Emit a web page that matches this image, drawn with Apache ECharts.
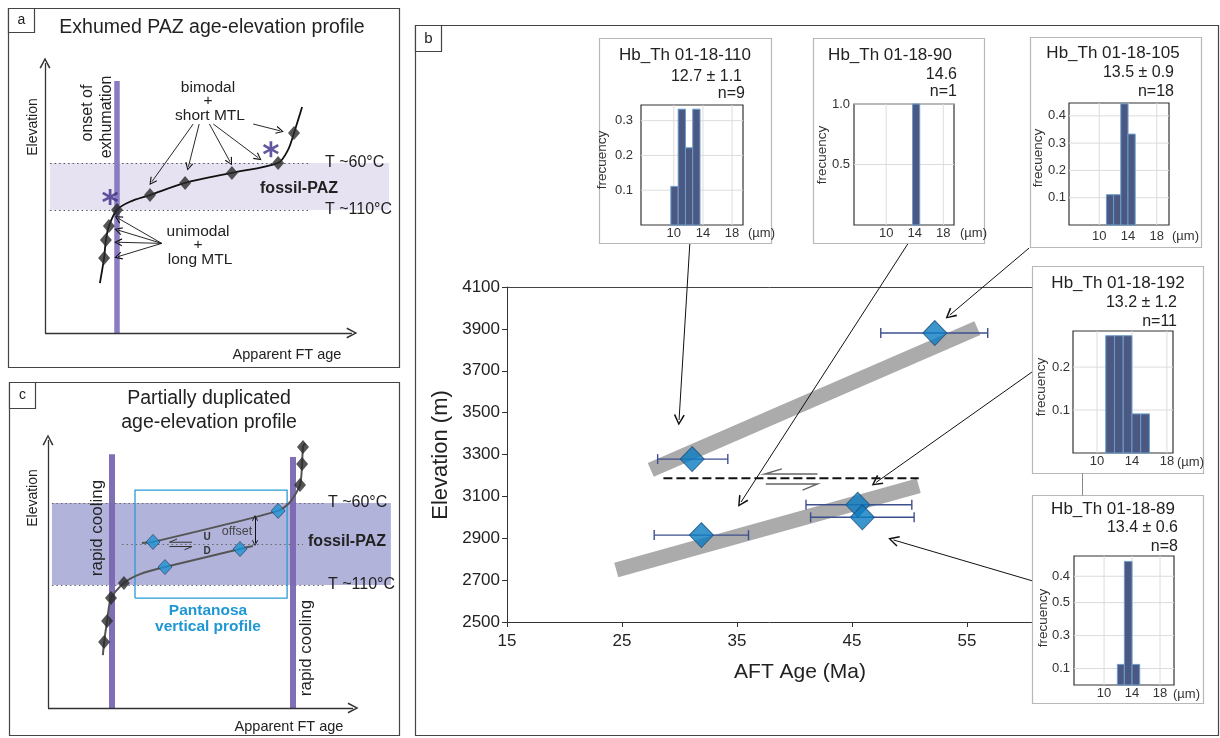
<!DOCTYPE html>
<html><head><meta charset="utf-8">
<script src="https://cdn.jsdelivr.net/npm/echarts@6/dist/echarts.min.js"></script>
<style>html,body{margin:0;padding:0;background:#fff}#c{width:1220px;height:738px}</style>
</head><body><div id="c"></div>
<script>
// ================= DATA =================
// ---- Panel b: AFT age vs elevation ----
const ageTicks = [15, 25, 35, 45, 55];
const elevTicks = [2500, 2700, 2900, 3100, 3300, 3500, 3700, 3900, 4100];
const ageMa   = [52.2, 31.1, 31.9, 45.5, 45.9];
const elevM   = [3880, 3278, 2915, 3060, 3000];
const ageErrLo = [47.5, 28.1, 27.8, 41.0, 41.4];
const ageErrHi = [56.8, 34.2, 36.0, 50.2, 50.4];
const upperTrend = [[27.5, 3226], [55.9, 3904]];
const lowerTrend = [[24.5, 2748], [50.8, 3151]];
const faultLine  = [[28.6, 3186], [50.8, 3186]];
const shearUpper = [[38.9, 3231], [37.4, 3207], [42.0, 3207]];
const shearLower = [[37.5, 3159], [42.0, 3159], [40.7, 3130]];
const insetArrows = [
  [[30.9, 4310], [29.96, 3465]],
  [[49.9, 4310], [35.35, 3073]],
  [[60.4, 4286], [53.5, 3966]],
  [[60.65, 3694], [47.1, 3167]],
  [[60.65, 2697], [48.6, 2892]]
];
// ---- Insets: track-length histograms ----
const insetTitles = ['Hb_Th 01-18-110', 'Hb_Th 01-18-90', 'Hb_Th 01-18-105', 'Hb_Th 01-18-192', 'Hb_Th 01-18-89'];
const insetStats  = ['12.7 \u00b1 1.1', '14.6', '13.5 \u00b1 0.9', '13.2 \u00b1 1.2', '13.4 \u00b1 0.6'];
const insetCounts = ['n=9', 'n=1', 'n=18', 'n=11', 'n=8'];
const ins110Edges = [9.6, 10.6, 11.6, 12.6, 13.6];  const ins110Freq = [0.111, 0.333, 0.222, 0.333];
const ins90Edges  = [13.7, 14.7];                   const ins90Freq  = [1.0];
const ins105Edges = [11, 12, 13, 14, 15];           const ins105Freq = [0.111, 0.111, 0.444, 0.333];
const ins192Edges = [11, 12, 13, 14, 15, 16];       const ins192Freq = [0.273, 0.273, 0.273, 0.091, 0.091];
const ins89Edges  = [11.9, 12.9, 14.0, 15.1];       const ins89Freq  = [0.125, 0.75, 0.125];
const insetEdges = [ins110Edges, ins90Edges, ins105Edges, ins192Edges, ins89Edges];
const insetFreq  = [ins110Freq, ins90Freq, ins105Freq, ins192Freq, ins89Freq];
const insetXRange = [[5.5, 19.5], [5.5, 19.5], [5.8, 19.7], [7.25, 18.7], [5.7, 20.0]];
const insetYMax = [0.345, 1.0, 0.447, 0.284, 0.783];
const insetXTicks = [10, 14, 18];
const insetYTicks = [[0.1, 0.2, 0.3], [0.5, 1.0], [0.1, 0.2, 0.3, 0.4], [0.1, 0.2], [0.1, 0.3, 0.5, 0.66]];
const insetYLabels = [['0.1', '0.2', '0.3'], ['0.5', '1.0'], ['0.1', '0.2', '0.3', '0.4'], ['0.1', '0.2'], ['0.1', '0.3', '0.5', '0.4']];
// ---- Panel a: schematic (arbitrary units) ----
const aAxes = [[[0, 0], [0, 100]], [[0, 0], [102.3, 0]]];
const aPazBand = [1.7, 114.7, 45.6, 63];
const aIsotherms = [[[1.7, 63], [88.3, 63]], [[1.7, 45.6], [88.3, 45.6]]];
const aOnsetBar = [[24, 0], [24, 93.3]];
const aCurve = [[18.3, 18.5], [19.7, 27.8], [20.3, 34.4], [21.3, 39.6], [24, 45.6], [28.3, 48.6], [35, 51.1], [46.7, 55.6], [62.3, 59.3], [77.7, 63], [81, 67.8], [83, 74.1], [85.7, 83.7]];
const aSamples = [[19.7, 27.8], [20.3, 34.4], [21.3, 39.6], [24, 45.6], [35, 51.1], [46.7, 55.6], [62.3, 59.3], [77.7, 63], [83, 74.1]];
const aStars = [[21.7, 50.4], [75.3, 68.1]];
const aArrows = [
  [[49.4, 77.4], [35.6, 56.0]], [[51.4, 77.4], [47.8, 61.6]], [[54.8, 77.4], [61.7, 63.4]],
  [[56.1, 77.4], [71.1, 64.9]], [[69.4, 77.4], [78.3, 74.9]],
  [[38.9, 33.2], [24.4, 42.5]], [[38.9, 33.2], [24.4, 38.1]], [[38.9, 33.2], [24.4, 33.6]], [[38.9, 33.2], [24.4, 28.3]]
];
// ---- Panel c: schematic (arbitrary units) ----
const cAxes = [[[0, 0], [0, 99.3]], [[0, 0], [101.7, 0]]];
const cPazBand = [1.3, 114.3, 45.6, 75.9];
const cIsotherms = [[[1.3, 75.9], [92, 75.9]], [[1.3, 45.6], [92, 45.6]], [[24.7, 60.7], [85, 60.7]]];
const cCoolingBars = [[[21.3, 0], [21.3, 94]], [[81.7, 0], [81.7, 93]]];
const cProfileBox = [[29, 40.7], [79.7, 40.7], [79.7, 80.7], [29, 80.7], [29, 40.7]];
const cLowerCurve = [[18.3, 19.6], [18.7, 24.4], [19.7, 32.2], [21, 40.7], [25.3, 46.3], [30.7, 49.6], [39, 52.2], [64, 58.9], [68.3, 60]];
const cUpperCurve = [[31.3, 61.1], [35, 61.5], [76.7, 73], [80.7, 76.3], [84, 82.6], [84.7, 90.4], [85, 96.7], [85.7, 98.1]];
const cBlackSamples = [[18.7, 24.4], [19.7, 32.2], [21, 40.7], [25.3, 46.3], [84, 82.6], [84.7, 90.4], [85, 96.7]];
const cBlueSamples = [[39, 52.2], [64, 58.9], [35, 61.5], [76.7, 73]];
const cOffset = [[69, 61.1], [69, 70.4]];
const cShear = [[[43, 62.6], [40.5, 61.4], [48, 61.4]], [[40.5, 59.8], [48, 59.8], [45.5, 58.6]]];

// ================= LAYOUT / STYLE =================
const F = '"Liberation Sans", Arial, Helvetica, sans-serif';
const chev = 'path://M0,10 L5,0 L10,10 L8.7,10.7 L5,2.9 L1.3,10.7 Z';
const asterisk = 'path://M4.2,0 h1.6 v3.6 l3.1,-1.8 l0.8,1.4 l-3.1,1.8 l3.1,1.8 l-0.8,1.4 l-3.1,-1.8 v3.6 h-1.6 v-3.6 l-3.1,1.8 l-0.8,-1.4 l3.1,-1.8 l-3.1,-1.8 l0.8,-1.4 l3.1,1.8 z';
const insetLayout = [
  {box:[599.5, 38.5, 172, 205], grid:[641, 105, 102, 120], title:[685, 55], stat:[742, 77], n:[745, 94], um:[748, 233], fr:[602, 160], ym:8, xm:2},
  {box:[813.5, 38.5, 171, 205], grid:[854, 104, 100, 121], title:[890, 55], stat:[957, 75], n:[957, 92], um:[960, 233], fr:[822, 155], ym:4, xm:2},
  {box:[1030.5, 37.5, 171, 210], grid:[1069, 103, 100, 122], title:[1113, 53], stat:[1174, 73], n:[1174, 92], um:[1172, 236], fr:[1038, 158], ym:3, xm:5},
  {box:[1032.5, 266.5, 171, 207], grid:[1073, 331, 100, 122], title:[1118, 283], stat:[1177, 303], n:[1177, 322], um:[1177, 462], fr:[1041, 387], ym:3, xm:2},
  {box:[1032.5, 495.5, 171, 208], grid:[1074, 556, 100, 129], title:[1113, 509], stat:[1178, 528], n:[1178, 547], um:[1173, 694], fr:[1043, 618], ym:4, xm:2}
];

function txt(s, x, y, size, o) {
  o = o || {};
  return {type:'text', x:x, y:y, rotation:o.rot || 0, z:50, silent:true,
    style:{text:s, font:(o.bold ? 'bold ' : '') + size + 'px ' + F, fill:o.color || '#222',
      align:o.align || 'center', verticalAlign:'middle'}};
}
function rbox(x, y, w, h, stroke, lw, fill) {
  return {type:'rect', z:40, silent:true, shape:{x:x, y:y, width:w, height:h}, style:{fill:fill || 'none', stroke:stroke, lineWidth:lw || 1}};
}
function rectRender(style) {
  return function (params, api) {
    const p0 = api.coord([api.value(0), api.value(2)]);
    const p1 = api.coord([api.value(1), api.value(3)]);
    return {type:'rect', shape:{x:Math.min(p0[0], p1[0]), y:Math.min(p0[1], p1[1]),
      width:Math.abs(p1[0] - p0[0]), height:Math.abs(p1[1] - p0[1])}, style:style};
  };
}
const R = Math.PI / 2;

// ================= GRIDS & AXES =================
const grids = [
  {left:45, top:49.5, width:345, height:283.5},
  {left:48, top:424.5, width:345, height:283.5},
  {left:507, top:287, width:525, height:335}
];
const xAxes = [
  {gridIndex:0, type:'value', min:0, max:115, show:false},
  {gridIndex:1, type:'value', min:0, max:115, show:false},
  {gridIndex:2, type:'value', min:ageTicks[0], max:60.65, interval:10,
    axisLine:{lineStyle:{color:'#333', width:1}}, axisTick:{length:5, lineStyle:{color:'#333'}},
    axisLabel:{fontSize:17, color:'#222', margin:11, fontFamily:F, showMaxLabel:false, formatter:function (v) { return String(v); }}, splitLine:{show:false}},
  {gridIndex:2, type:'value', position:'top', min:ageTicks[0], max:60.65,
    axisLine:{show:true, lineStyle:{color:'#444', width:1}}, axisTick:{show:false}, axisLabel:{show:false}, splitLine:{show:false}}
];
const yAxes = [
  {gridIndex:0, type:'value', min:0, max:105, show:false},
  {gridIndex:1, type:'value', min:0, max:105, show:false},
  {gridIndex:2, type:'value', min:elevTicks[0], max:elevTicks[elevTicks.length - 1], interval:200,
    axisLine:{show:true, lineStyle:{color:'#333', width:1}}, axisTick:{show:true, length:5, lineStyle:{color:'#333'}},
    axisLabel:{fontSize:17, color:'#222', margin:7, fontFamily:F, formatter:function (v) { return String(v); }}, splitLine:{show:false}}
];
insetLayout.forEach(function (L, i) {
  grids.push({left:L.grid[0], top:L.grid[1], width:L.grid[2], height:L.grid[3], show:true, borderColor:'#333', borderWidth:1.2, backgroundColor:'#fff'});
  xAxes.push({gridIndex:3 + i, type:'value', min:insetXRange[i][0], max:insetXRange[i][1],
    axisLine:{show:false}, axisTick:{show:false}, splitLine:{show:false},
    axisLabel:{customValues:insetXTicks, fontSize:13, color:'#333', margin:L.xm, fontFamily:F}});
  const yt = insetYTicks[i], yl = insetYLabels[i];
  yAxes.push({gridIndex:3 + i, type:'value', min:0, max:insetYMax[i],
    axisLine:{show:false}, axisTick:{show:false}, splitLine:{show:false},
    axisLabel:{customValues:yt, fontSize:13, color:'#333', margin:L.ym, fontFamily:F,
      formatter:function (v) { let k = 0, d = 1e9; yt.forEach(function (t, j) { if (Math.abs(t - v) < d) { d = Math.abs(t - v); k = j; } }); return yl[k]; }}});
});

// ================= SERIES =================
const S = [];
function axesLines(xi, data) {
  S.push({type:'lines', coordinateSystem:'cartesian2d', xAxisIndex:xi, yAxisIndex:xi, z:6, clip:false, silent:true,
    symbol:['none', chev], symbolSize:11, lineStyle:{color:'#333', width:1.3, opacity:1},
    data:data.map(function (c) { return {coords:c}; })});
}
// ---- Panel a ----
S.push({type:'custom', xAxisIndex:0, yAxisIndex:0, z:1, silent:true, renderItem:rectRender({fill:'#e7e2f2'}), encode:{x:[0, 1], y:[2, 3]}, data:[aPazBand]});
S.push({type:'lines', coordinateSystem:'cartesian2d', xAxisIndex:0, yAxisIndex:0, z:2, silent:true,
  lineStyle:{color:'#555', width:1, type:[1.5, 3], opacity:1}, data:aIsotherms.map(function (c) { return {coords:c}; })});
S.push({type:'line', xAxisIndex:0, yAxisIndex:0, z:2, silent:true, symbol:'none', lineStyle:{color:'#8b7bc0', width:5.5, cap:'butt'}, data:aOnsetBar});
S.push({type:'line', xAxisIndex:0, yAxisIndex:0, z:3, silent:true, symbol:'none', smooth:0.3, lineStyle:{color:'#111', width:1.8}, data:aCurve});
S.push({type:'scatter', xAxisIndex:0, yAxisIndex:0, z:4, silent:true, symbol:'diamond', symbolSize:[12, 14], itemStyle:{color:'#2b2b2b'}, data:aSamples});
S.push({type:'scatter', xAxisIndex:0, yAxisIndex:0, z:4, silent:true, symbol:asterisk, symbolSize:[16, 16], itemStyle:{color:'#3b2d87'}, data:aStars});
S.push({type:'lines', coordinateSystem:'cartesian2d', xAxisIndex:0, yAxisIndex:0, z:5, clip:false, silent:true,
  symbol:['none', chev], symbolSize:8, lineStyle:{color:'#111', width:0.9, opacity:1}, data:aArrows.map(function (c) { return {coords:c}; })});
axesLines(0, aAxes);
// ---- Panel c ----
S.push({type:'custom', xAxisIndex:1, yAxisIndex:1, z:1, silent:true, renderItem:rectRender({fill:'#b2b3db'}), encode:{x:[0, 1], y:[2, 3]}, data:[cPazBand]});
S.push({type:'lines', coordinateSystem:'cartesian2d', xAxisIndex:1, yAxisIndex:1, z:2, silent:true,
  lineStyle:{color:'#666', width:1, type:[1.5, 3], opacity:1}, data:cIsotherms.map(function (c) { return {coords:c}; })});
S.push({type:'lines', coordinateSystem:'cartesian2d', xAxisIndex:1, yAxisIndex:1, z:2, silent:true,
  lineStyle:{color:'#7a67b2', width:6, opacity:0.95}, data:cCoolingBars.map(function (c) { return {coords:c}; })});
S.push({type:'lines', coordinateSystem:'cartesian2d', xAxisIndex:1, yAxisIndex:1, z:3, silent:true, polyline:true,
  lineStyle:{color:'#2a9ad6', width:1.3, opacity:1}, data:[{coords:cProfileBox}]});
S.push({type:'line', xAxisIndex:1, yAxisIndex:1, z:3, silent:true, symbol:'none', smooth:0.25, lineStyle:{color:'#555', width:2}, data:cLowerCurve});
S.push({type:'line', xAxisIndex:1, yAxisIndex:1, z:3, silent:true, symbol:'none', smooth:0.25, lineStyle:{color:'#555', width:2}, data:cUpperCurve});
S.push({type:'scatter', xAxisIndex:1, yAxisIndex:1, z:4, silent:true, symbol:'diamond', symbolSize:[12, 14], itemStyle:{color:'#2b2b2b'}, data:cBlackSamples});
S.push({type:'scatter', xAxisIndex:1, yAxisIndex:1, z:4, silent:true, symbol:'diamond', symbolSize:[14, 15], itemStyle:{color:'#1d93d3', borderColor:'#234', borderWidth:0.8}, data:cBlueSamples});
S.push({type:'lines', coordinateSystem:'cartesian2d', xAxisIndex:1, yAxisIndex:1, z:5, silent:true,
  symbol:[chev, chev], symbolSize:6, lineStyle:{color:'#111', width:1, opacity:1}, data:[{coords:cOffset}]});
S.push({type:'lines', coordinateSystem:'cartesian2d', xAxisIndex:1, yAxisIndex:1, z:5, silent:true, polyline:true,
  lineStyle:{color:'#333', width:1, opacity:1}, data:cShear.map(function (c) { return {coords:c}; })});
axesLines(1, cAxes);
// ---- Panel b main ----
[upperTrend, lowerTrend].forEach(function (d) {
  S.push({type:'line', xAxisIndex:2, yAxisIndex:2, z:1, silent:true, symbol:'none', lineStyle:{color:'#ababab', width:15, cap:'butt'}, data:d});
});
S.push({type:'line', xAxisIndex:2, yAxisIndex:2, z:2, silent:true, symbol:'none', lineStyle:{color:'#111', width:2, type:[9, 4]}, data:faultLine});
S.push({type:'lines', coordinateSystem:'cartesian2d', xAxisIndex:2, yAxisIndex:2, z:2, silent:true, polyline:true,
  lineStyle:{color:'#666', width:1.4, opacity:1}, data:[{coords:shearUpper}, {coords:shearLower}]});
S.push({type:'custom', xAxisIndex:2, yAxisIndex:2, z:3, silent:true, encode:{x:[0, 2, 3], y:1},
  data:ageMa.map(function (a, i) { return [a, elevM[i], ageErrLo[i], ageErrHi[i]]; }),
  renderItem:function (params, api) {
    const y = api.value(1);
    const a = api.coord([api.value(2), y]), b = api.coord([api.value(3), y]);
    const st = {stroke:'#3e4f8e', lineWidth:1.4};
    return {type:'group', children:[
      {type:'line', shape:{x1:a[0], y1:a[1], x2:b[0], y2:b[1]}, style:st},
      {type:'line', shape:{x1:a[0], y1:a[1] - 5, x2:a[0], y2:a[1] + 5}, style:st},
      {type:'line', shape:{x1:b[0], y1:b[1] - 5, x2:b[0], y2:b[1] + 5}, style:st}]};
  }});
S.push({type:'scatter', xAxisIndex:2, yAxisIndex:2, z:4, silent:true, symbol:'diamond', symbolSize:[24, 25],
  itemStyle:{color:'#0b7cc2', borderColor:'#1f4f7c', borderWidth:1}, data:ageMa.map(function (a, i) { return [a, elevM[i]]; })});
S.push({type:'lines', coordinateSystem:'cartesian2d', xAxisIndex:2, yAxisIndex:2, z:5, clip:false, silent:true,
  symbol:['none', chev], symbolSize:11, lineStyle:{color:'#111', width:1, opacity:1}, data:insetArrows.map(function (c) { return {coords:c}; })});
// ---- Insets ----
insetLayout.forEach(function (L, i) {
  const ax = 4 + i, ay = 3 + i;
  S.push({type:'custom', xAxisIndex:ax, yAxisIndex:ay, z:1, silent:true, encode:{x:0, y:1},
    data:insetXTicks.map(function (v) { return [v, 0]; }),
    renderItem:function (params, api) {
      const cs = params.coordSys; const x = api.coord([api.value(0), 0])[0];
      return {type:'line', shape:{x1:x, y1:cs.y, x2:x, y2:cs.y + cs.height}, style:{stroke:'#dcdcdc', lineWidth:1}};
    }});
  S.push({type:'custom', xAxisIndex:ax, yAxisIndex:ay, z:1, silent:true, encode:{x:0, y:1},
    data:insetYTicks[i].map(function (v) { return [insetXRange[i][0], v]; }),
    renderItem:function (params, api) {
      const cs = params.coordSys; const y = api.coord([api.value(0), api.value(1)])[1];
      return {type:'line', shape:{x1:cs.x, y1:y, x2:cs.x + cs.width, y2:y}, style:{stroke:'#dcdcdc', lineWidth:1}};
    }});
  const e = insetEdges[i];
  S.push({type:'custom', xAxisIndex:ax, yAxisIndex:ay, z:3, silent:true, encode:{x:[0, 1], y:[2, 3]},
    data:insetFreq[i].map(function (f, j) { return [e[j], e[j + 1], 0, f]; }),
    renderItem:rectRender({fill:'#4a5882', stroke:'#6c9ccc', lineWidth:1})});
});

// ================= GRAPHIC (frames & text) =================
const G = [];
G.push(rbox(8.5, 8.5, 391, 359, '#444', 1.2));
G.push(rbox(9.5, 382.5, 390, 353, '#444', 1.2));
G.push(rbox(415.5, 25.5, 803, 710, '#444', 1.2));
G.push(rbox(8.5, 8.5, 26, 24, '#444', 1.2, '#fff'));  G.push(txt('a', 21.5, 20, 14));
G.push(rbox(9.5, 382.5, 26, 26, '#444', 1.2, '#fff')); G.push(txt('c', 22.5, 395, 14));
G.push(rbox(415.5, 25.5, 26, 26, '#444', 1.2, '#fff')); G.push(txt('b', 428.5, 38.5, 15));
// panel a text
G.push(txt('Exhumed PAZ age-elevation profile', 212, 28, 19.5));
G.push(txt('Elevation', 33, 127, 14, {rot:R}));
G.push(txt('Apparent FT age', 287, 355, 14.5));
G.push(txt('onset of', 88, 113, 16, {rot:R}));
G.push(txt('exhumation', 107, 117, 16, {rot:R}));
G.push(txt('bimodal', 208, 88, 15.5));
G.push(txt('+', 208, 101, 15.5));
G.push(txt('short MTL', 210, 116, 15.5));
G.push(txt('unimodal', 198, 232, 15.5));
G.push(txt('+', 198, 245, 15.5));
G.push(txt('long MTL', 200, 260, 15.5));
G.push(txt('T ~60\u00b0C', 325, 163, 16, {align:'left'}));
G.push(txt('T ~110\u00b0C', 325, 210, 16, {align:'left'}));
G.push(txt('fossil-PAZ', 299, 189, 16, {bold:true}));
// panel c text
G.push(txt('Partially duplicated', 209, 399, 19.5));
G.push(txt('age-elevation profile', 209, 423, 19.5));
G.push(txt('Elevation', 33, 498, 14, {rot:R}));
G.push(txt('Apparent FT age', 289, 727, 14.5));
G.push(txt('rapid cooling', 97, 528, 17, {rot:R}));
G.push(txt('rapid cooling', 306, 648, 17, {rot:R}));
G.push(txt('T ~60\u00b0C', 328, 503, 16, {align:'left'}));
G.push(txt('T ~110\u00b0C', 328, 585, 16, {align:'left'}));
G.push(txt('fossil-PAZ', 347, 542, 16, {bold:true}));
G.push(txt('Pantanosa', 208, 611, 15.5, {bold:true, color:'#1f97d4'}));
G.push(txt('vertical profile', 208, 627, 15.5, {bold:true, color:'#1f97d4'}));
G.push(txt('offset', 237, 532, 12.5, {color:'#444'}));
G.push(txt('U', 207, 537, 10, {bold:true, color:'#333'}));
G.push(txt('D', 207, 551, 10, {bold:true, color:'#333'}));
// panel b text
G.push(txt('Elevation (m)', 441, 455, 22, {rot:R}));
G.push(txt('AFT Age (Ma)', 800, 672, 21));
insetLayout.forEach(function (L, i) {
  G.push(rbox(L.box[0], L.box[1], L.box[2], L.box[3], '#b8b8b8', 1.2));
  G.push(txt(insetTitles[i], L.title[0], L.title[1], 17));
  G.push(txt(insetStats[i], L.stat[0], L.stat[1], 16, {align:'right'}));
  G.push(txt(insetCounts[i], L.n[0], L.n[1], 16, {align:'right'}));
  G.push(txt('(\u00b5m)', L.um[0], L.um[1], 13, {align:'left', color:'#333'}));
  G.push(txt('frecuency', L.fr[0], L.fr[1], 13.5, {rot:R, color:'#333'}));
});
G.push({type:'line', z:40, silent:true, shape:{x1:1082.5, y1:473.5, x2:1082.5, y2:495.5}, style:{stroke:'#888', lineWidth:1}});

const chart = echarts.init(document.getElementById('c'), null, {renderer:'canvas', width:1220, height:738});
chart.setOption({
  animation:false,
  backgroundColor:'#ffffff',
  textStyle:{fontFamily:F},
  grid:grids, xAxis:xAxes, yAxis:yAxes, series:S,
  graphic:{elements:G}
});
</script>
</body></html>
